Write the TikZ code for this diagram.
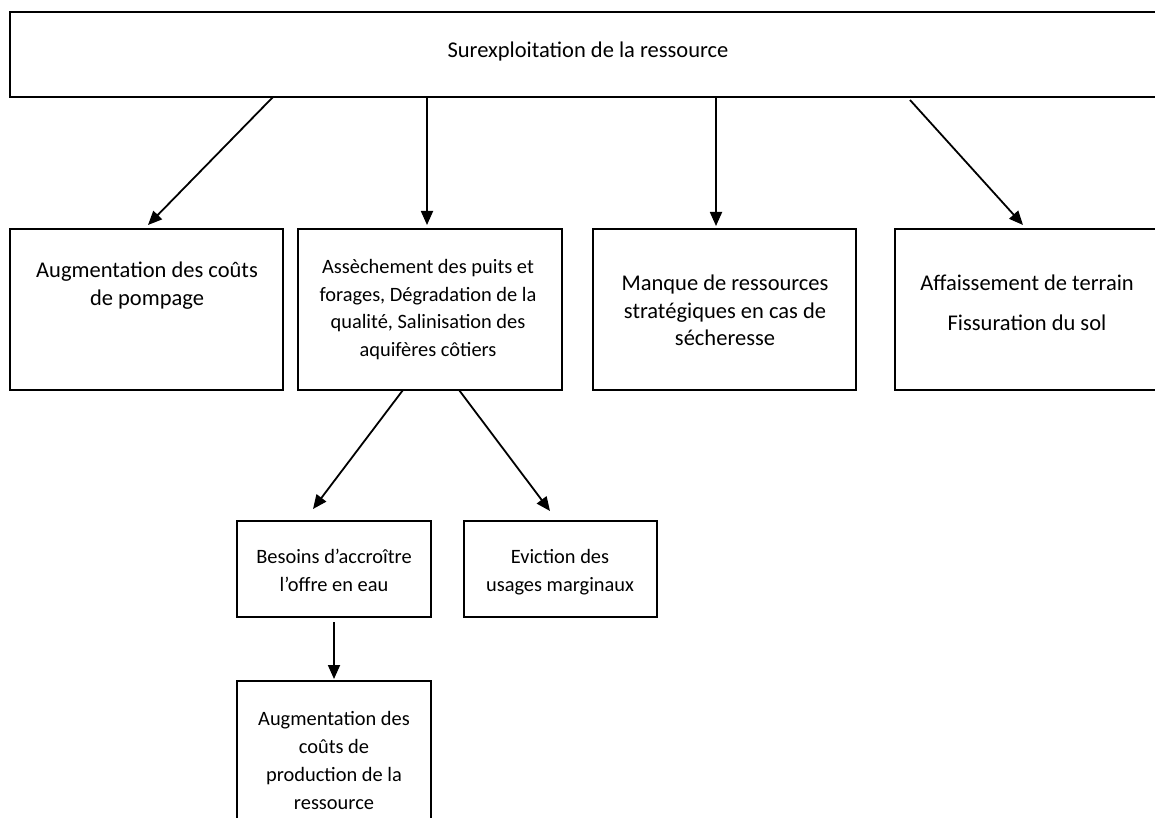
\documentclass[tikz,border=0pt]{standalone}
\usepackage{fontspec}
\setmainfont{Carlito}
\usetikzlibrary{arrows.meta}
\tikzset{
  box/.style={draw, line width=1.7pt, inner sep=0pt, outer sep=0pt, anchor=north west},
  big/.style={font=\fontsize{22.5}{27}\selectfont, anchor=base, inner sep=0pt},
  small/.style={font=\fontsize{20.4}{27}\selectfont, anchor=base, inner sep=0pt},
  arr/.style={line width=1.8pt, -{Triangle[length=14pt,width=12pt]}}
}
\begin{document}
\begin{tikzpicture}[x=1pt,y=-1pt]
\useasboundingbox (0,0) rectangle (1155,818);
\clip (0,0) rectangle (1155,818);
\fill[white] (0,0) rectangle (1155,818);
% boxes
\node[box, minimum width=1200pt, minimum height=85pt] (top) at (10,12) {};
\node[box, minimum width=273pt, minimum height=161pt] (A) at (10,229) {};
\node[box, minimum width=264pt, minimum height=161pt] (B) at (298,229) {};
\node[box, minimum width=263pt, minimum height=161pt] (C) at (593,229) {};
\node[box, minimum width=300pt, minimum height=161pt] (D) at (895,229) {};
\node[box, minimum width=194pt, minimum height=96pt] (E) at (237,521) {};
\node[box, minimum width=193pt, minimum height=96pt] (F) at (464,521) {};
\node[box, minimum width=194pt, minimum height=200pt] (G) at (237,681) {};
% texts
\node[big] (t0) at (588,58) {Surexploitation de la ressource};
\node[big] (tA1) at (147,277) {Augmentation des coûts};
\node[big] (tA2) at (147,305) {de pompage};
\node[small] (tB1) at (428,273) {Assèchement des puits et};
\node[small] (tB2) at (428,301) {forages, Dégradation de la};
\node[small] (tB3) at (428,328) {qualité, Salinisation des};
\node[small] (tB4) at (428,356) {aquifères côtiers};
\node[big] (tC1) at (725,290) {Manque de ressources};
\node[big] (tC2) at (725,318) {stratégiques en cas de};
\node[big] (tC3) at (725,345) {sécheresse};
\node[big] (tD1) at (1027,290) {Affaissement de terrain};
\node[big] (tD2) at (1027,330) {Fissuration du sol};
\node[small] (tE1) at (334,563) {Besoins d’accroître};
\node[small] (tE2) at (334,591) {l’offre en eau};
\node[small] (tF1) at (560,563) {Eviction des};
\node[small] (tF2) at (560,591) {usages marginaux};
\node[small] (tG1) at (334,725) {Augmentation des};
\node[small] (tG2) at (334,753) {coûts de};
\node[small] (tG3) at (334,781) {production de la};
\node[small] (tG4) at (334,809) {ressource};
% arrows
\draw[arr] ([xshift=263pt]top.south west) -- ([xshift=138pt,yshift=4pt]A.north west);
\draw[arr] ([xshift=417pt]top.south west) -- ([xshift=129pt,yshift=4pt]B.north west);
\draw[arr] ([xshift=706pt]top.south west) -- ([xshift=123pt,yshift=3pt]C.north west);
\draw[arr] ([xshift=900pt,yshift=-3pt]top.south west) -- ([xshift=128pt,yshift=4pt]D.north west);
\draw[arr] ([xshift=105pt]B.south west) -- ([xshift=76pt,yshift=12pt]E.north west);
\draw[arr] ([xshift=161pt]B.south west) -- ([xshift=86pt,yshift=10pt]F.north west);
\draw[arr] ([xshift=97pt,yshift=-5pt]E.south west) -- ([xshift=97pt,yshift=2pt]G.north west);
\end{tikzpicture}
\end{document}
